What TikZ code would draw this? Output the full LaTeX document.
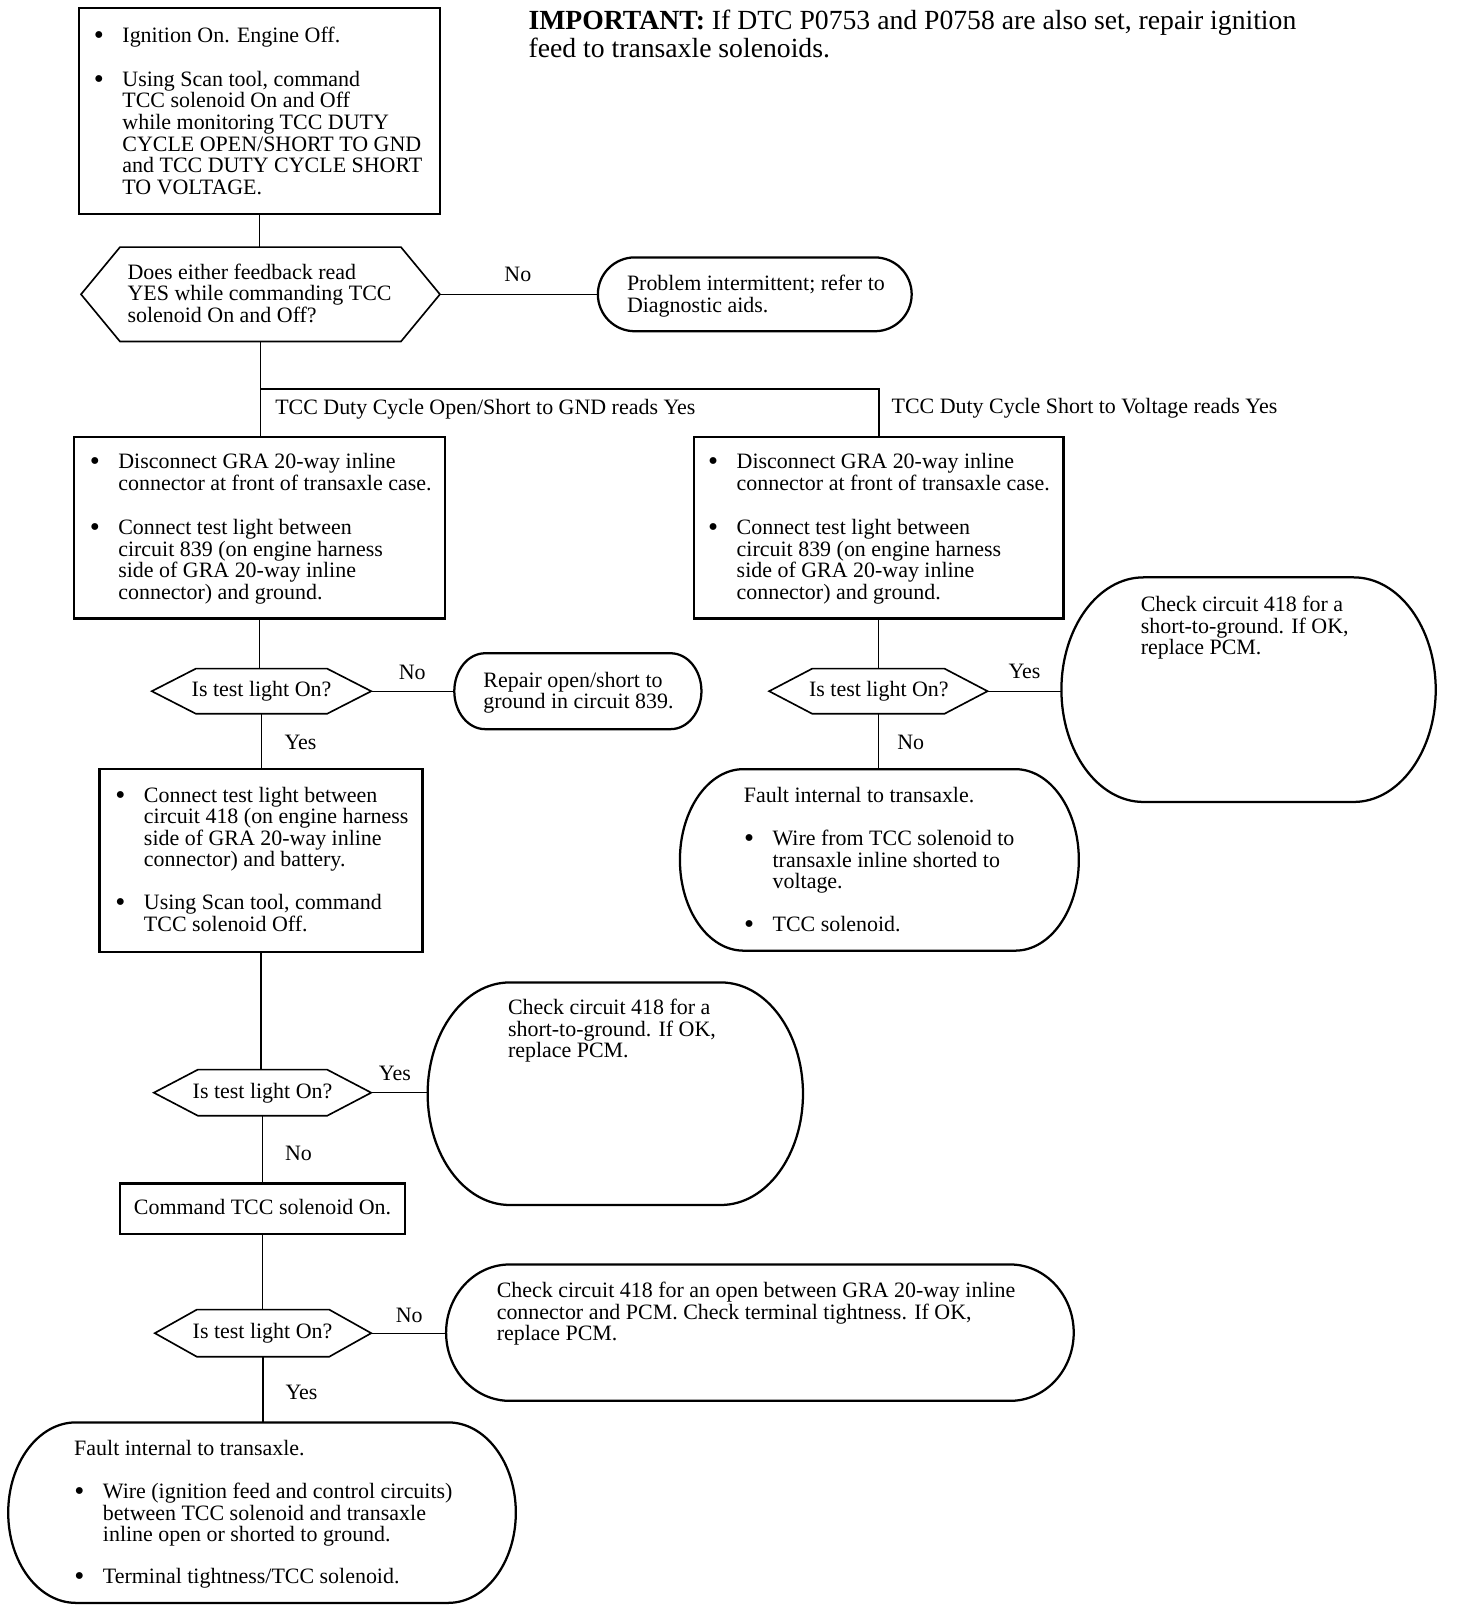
\documentclass[tikz,border=0pt]{standalone}
\usepackage{fontspec}
\setmainfont{Liberation Serif}
\usetikzlibrary{fit,calc}
\newcommand\myfs{\fontsize{10.7}{10.5}\selectfont}
\newcommand\bul{\llap{\raisebox{-1pt}{\fontsize{14}{14}\selectfont\textbullet}\hspace{9pt}}}
% stadium: name, x1, y1, x2, y2, rx
\newcommand\stad[6]{%
  \node[inner sep=0pt, fit={(#2,#3) (#4,#5)}] (#1) {};
  \draw[shp] ({#2+#6},#3) -- ({#4-#6},#3)
    .. controls ({#4-#6+0.552*#6},#3) and (#4,{(#3+#5)/2-0.552*(#5-#3)/2}) .. (#4,{(#3+#5)/2})
    .. controls (#4,{(#3+#5)/2+0.552*(#5-#3)/2}) and ({#4-#6+0.552*#6},#5) .. ({#4-#6},#5)
    -- ({#2+#6},#5)
    .. controls ({#2+#6-0.552*#6},#5) and (#2,{(#3+#5)/2+0.552*(#5-#3)/2}) .. (#2,{(#3+#5)/2})
    .. controls (#2,{(#3+#5)/2-0.552*(#5-#3)/2}) and ({#2+#6-0.552*#6},#3) .. cycle;}
% hexagon: name, x1, x2, y1, y2, d
\newcommand\hexa[6]{%
  \node[inner sep=0pt, fit={(#2,#4) (#3,#5)}] (#1) {};
  \draw[hexs] (#2,{(#4+#5)/2}) -- ({#2+#6},#4) -- ({#3-#6},#4) -- (#3,{(#4+#5)/2})
    -- ({#3-#6},#5) -- ({#2+#6},#5) -- cycle;}
\begin{document}
\begin{tikzpicture}[x=0.5pt,y=-0.5pt,
  boxs/.style={draw, line width=1.1pt, inner sep=0pt},
  hexs/.style={draw, line width=0.8pt, line join=miter},
  shp/.style={draw, line width=1.1pt},
  con/.style={draw, line width=0.6pt},
  txt/.style={anchor=north west, align=left, inner sep=0pt, font=\myfs},
  ctr/.style={inner sep=0pt, font=\myfs}]
\useasboundingbox (0,0) rectangle (1420,1568);

% ---------- top ----------
\node[boxs, fit={(77,8) (429,209)}] (b1) {};
\node[txt] (t1a) at (119,26) {\bul Ignition On. Engine Off.};
\node[txt] (t1b) at (119,69) {\bul Using Scan tool, command\\TCC solenoid On and Off\\while monitoring TCC DUTY\\CYCLE OPEN/SHORT TO GND\\and TCC DUTY CYCLE SHORT\\TO VOLTAGE.};

\node[anchor=north west, align=left, inner sep=0pt, font=\fontsize{13.5}{13.6}\selectfont] (imp) at (515,9)
  {\textbf{IMPORTANT:} If DTC P0753 and P0758 are also set, repair ignition\\feed to transaxle solenoids.};

\hexa{h1}{79}{429}{241}{333}{38}
\node[txt] (th1) at (124,257) {Does either feedback read\\YES while commanding TCC\\solenoid On and Off?};

\stad{rP}{583}{251}{889}{323}{36}
\node[txt] (trP) at (611,268) {Problem intermittent; refer to\\Diagnostic aids.};
\node[ctr] (lNo1) at (505,268) {No};

% ---------- branch ----------
\node[ctr, anchor=west] (lbL) at (268,399) {TCC Duty Cycle Open/Short to GND reads Yes};
\node[ctr, anchor=west] (lbR) at (869,398) {TCC Duty Cycle Short to Voltage reads Yes};

\node[boxs, fit={(72,426) (434,603)}] (bL1) {};
\node[txt] (tL1a) at (115,442) {\bul Disconnect GRA 20-way inline\\connector at front of transaxle case.};
\node[txt] (tL1b) at (115,506) {\bul Connect test light between\\circuit 839 (on engine harness\\side of GRA 20-way inline\\connector) and ground.};

\node[boxs, fit={(677,426) (1037,603)}] (bR1) {};
\node[txt] (tR1a) at (718,442) {\bul Disconnect GRA 20-way inline\\connector at front of transaxle case.};
\node[txt] (tR1b) at (718,506) {\bul Connect test light between\\circuit 839 (on engine harness\\side of GRA 20-way inline\\connector) and ground.};

% ---------- left column ----------
\hexa{hL2}{148}{362}{652}{696}{43}
\node[ctr] (thL2) at (255,674) {Is test light On?};
\stad{rRep}{443}{637}{684}{711}{30}
\node[txt] (trRep) at (471,655) {Repair open/short to\\ground in circuit 839.};
\node[ctr] (lNo2) at (402,656) {No};
\node[ctr] (lYes2) at (293,724) {Yes};

\node[boxs, fit={(97,750) (412,928)}] (bL3) {};
\node[txt] (tL3a) at (140,767) {\bul Connect test light between\\circuit 418 (on engine harness\\side of GRA 20-way inline\\connector) and battery.};
\node[txt] (tL3b) at (140,872) {\bul Using Scan tool, command\\TCC solenoid Off.};

\hexa{hL4}{150}{362}{1043}{1088}{43}
\node[ctr] (thL4) at (256,1066) {Is test light On?};
\stad{rL4}{417}{958}{783}{1175}{80}
\node[txt] (trL4) at (495,974) {Check circuit 418 for a\\short-to-ground. If OK,\\replace PCM.};
\node[ctr] (lYes4) at (385,1047) {Yes};
\node[ctr] (lNo4) at (291,1125) {No};

\node[boxs, fit={(117,1154) (395,1203)}] (bL5) {};
\node[ctr] (tL5) at (256,1177) {Command TCC solenoid On.};

\hexa{hL6}{151}{362}{1277}{1323}{41}
\node[ctr] (thL6) at (256,1300) {Is test light On?};
\stad{rL6}{435}{1233}{1047}{1366}{62}
\node[txt] (trL6) at (484,1250) {Check circuit 418 for an open between GRA 20-way inline\\connector and PCM. Check terminal tightness. If OK,\\replace PCM.};
\node[ctr] (lNo6) at (399,1283) {No};
\node[ctr] (lYes6) at (294,1358) {Yes};

\stad{rB}{8}{1387}{503}{1563}{66}
\node[txt] (trB0) at (72,1404) {Fault internal to transaxle.};
\node[txt] (trBa) at (100,1446) {\bul Wire (ignition feed and control circuits)\\between TCC solenoid and transaxle\\inline open or shorted to ground.};
\node[txt] (trBb) at (100,1529) {\bul Terminal tightness/TCC solenoid.};

% ---------- right column ----------
\hexa{hR2}{750}{963}{652}{696}{42}
\node[ctr] (thR2) at (857,674) {Is test light On?};
\stad{rR}{1035}{563}{1400}{782}{80}
\node[txt] (trR) at (1112,581) {Check circuit 418 for a\\short-to-ground. If OK,\\replace PCM.};
\node[ctr] (lYesR) at (999,655) {Yes};
\node[ctr] (lNoR) at (888,724) {No};

\stad{rR3}{663}{750}{1052}{927}{62}
\node[txt] (trR3) at (725,767) {Fault internal to transaxle.};
\node[txt] (trR3a) at (753,809) {\bul Wire from TCC solenoid to\\transaxle inline shorted to\\voltage.};
\node[txt] (trR3b) at (753,893) {\bul TCC solenoid.};

% ---------- connectors ----------
\draw[con] (b1.south) -- (b1.south |- h1.north);
\draw[con] (h1.east) -- (h1.east -| rP.west);
\draw[con] (h1.south) -- (h1.south |- bL1.north);
\path (h1.south) ++(0,46) coordinate (j);
\draw[con, line width=1pt] (j) -| (bR1.north);
\draw[con] (bL1.south) -- (bL1.south |- hL2.north);
\draw[con] (hL2.east) -- (hL2.east -| rRep.west);
\draw[con] (hL2.south) -- (hL2.south |- bL3.north);
\draw[con] (bL3.south) -- (bL3.south |- hL4.north);
\draw[con] (hL4.east) -- (hL4.east -| rL4.west);
\draw[con] (hL4.south) -- (hL4.south |- bL5.north);
\draw[con] (bL5.south) -- (bL5.south |- hL6.north);
\draw[con] (hL6.east) -- (hL6.east -| rL6.west);
\draw[con] (hL6.south) -- (hL6.south |- rB.north);
\draw[con] (bR1.south) -- (bR1.south |- hR2.north);
\draw[con] (hR2.east) -- (hR2.east -| rR.west);
\draw[con] (hR2.south) -- (hR2.south |- rR3.north);
\end{tikzpicture}
\end{document}
